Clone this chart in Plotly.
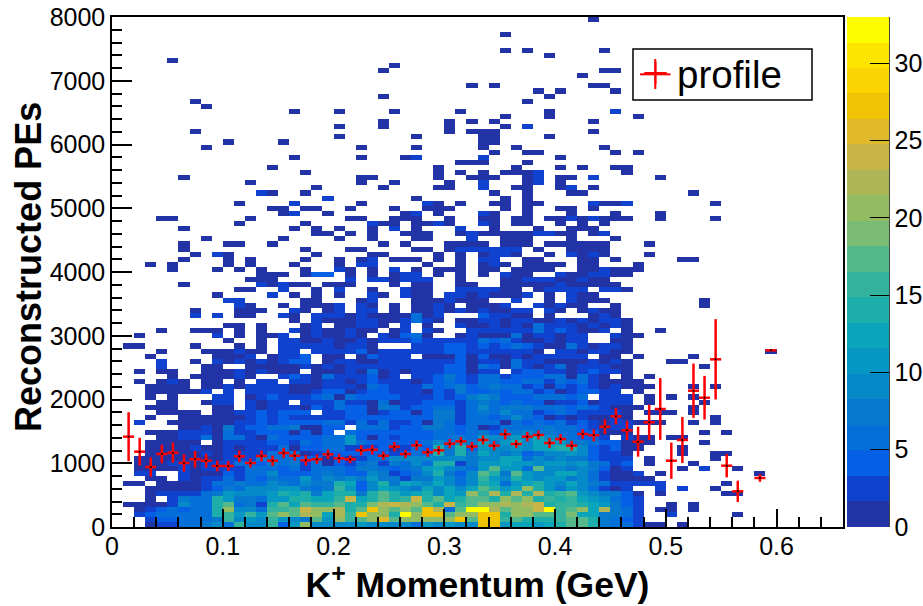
import plotly.graph_objects as go

# Counts per bin, one row per 80 PE bin, bottom row first.
# Each row holds up to four groups: columns 0-15, 16-32, 33-48, 49+ (0.01 GeV bins).
# "." is an empty bin, digits and letters are base-36 counts.
count_rows = [
"...13355795f99f4 al9999b99995a9b99 rraccacehhe75531 1.1",
"...3445557g9a9ga 97ialfhlpillllkri ssfheeefhhe7543.",
"..3455555egagahk hmkcmfrlkexksshll ssekkhhfjcc7753. .3.....1",
"..1345455ek995gg hollmehrlilhrm5ix xnhkkoxfhlcn753. 11.1",
".11113955eh573eh chffheejmomlieofi kkmlmoeffeca743. .1.1",
"...1.3755ea775aa eeccfoceiefoehceh helhkefefca9543.",
"...1333357a999ae ce7cee7eieace9cal gmememefha97741. 1.....11",
"...111113475999a a757fa49ca98c9c9c heaclea7a95313.. 3.3..1",
".11.111135575597 5987ec49e7ca9c959 ec5acea9c9753322 3.....1",
"...11.3133535475 5a59797a77387a959 fa9ea9aa79531111",
"..33..3111435594 4458544973459e749 he7ha99cc953112. 1........1",
"..11113133335554 535554775457ac975 aiaa5h99797413.. ..1.3..1",
"..11133133355475 7351435737595ee37 aacaa9aa9a7534.1 ...1",
"..11111111333755 54414135599999997 99cc5979784333.1 .....1",
"...1111131333355 5134444443455e7e7 c9794599a94221.. ..1..11",
"...1111311313335 1445533341354e7e4 a99a9ccee942411. ..1",
"...11111.1333344 35455a54444459797 c8ae9cca77544111 ....1",
"....113351553154 44455a41434445575 a99a9c975442.311 .11",
"...1113331533444 1414.544444445545 74779875544111.. ....1.1",
"......1131734455 81144.55534487545 13555575543132..",
"..3..11111133434 44455353533417535 5515454534313311 1..1.1",
"...1..1111113434 33333444444447735 54595413131131.. .....1",
"....1111.1133434 44.33441344147735 75955345433331.1 11.1",
"...111...11.3133 31435441753445535 957785554543111. ...1",
"....11..133.3133 .3335331513344435 75454413341333.1 ....1",
"...1.1...33.1343 33451544443334348 9744455545.233.1 .1.1",
"...111113.3.3333 11344134433314374 4545534134433.1.",
"...1111.11313333 11133315433354574 5755341434313111 ...1.1",
"..1.131.11.1.33. 33133134333134543 554455354531111.",
".....1.111131..3 4315333413.334743 553444551531.1.1",
"..1.11..11131311 1.111315131333441 33.34433134331..",
"....3...11..1111 13131333333333441 54153135133311.. ....1",
"....3..1.3131313 44.13311333333341 33153311113131.. .11",
"...1.....1113.13 34.11.14333.11141 4113133333.11.1. ...1",
"....1...111311.3 3.333341333333443 333331.3313311.. ..........1",
".11....1...1.1.3 33331331...333443 43454311531331..",
"..........1..1.3 31131131333433333 5453113133..11..",
"..1......3.1.113 .131131.31451..13 1115133133..311.",
"....1..111.1.1.. 31311311.13.31..3 333335343113.1.. 1",
"..........11.1.. .13.11331.3.1..31 13131533313131..",
"................ 1.311133113531.11 33133113131331..",
".......3.3.11..3 1.333131111513... 43311.1...131...",
".......1...111.. 31.13.33.1.113131 31133.31.1311...",
"...........31..1 .1113.31.1.1131.1 113..31311..1... ....1",
"..........33.... .11...13...111311 1..3..1.3111.... ....1",
".........1....3. 1.1.1..31.311.331 31113.1.311.....",
"...........11..3 ..1.3..1..311..33 3311.13333.221..",
"......1......313 11.111...1.11..11 ..11111311111...",
"............111. .....3.331333..1. ..1133311311....",
".............111 .144.1.1.133.1.1. 1.311..3113311..",
".....1...1.1.1.. .1..31.1.3.1.111. 11.1111..113111.",
"...1.1....1.1... 1...1.33....1..1. 131.1111.11...1.",
"......1...1.1... .1..1.13.111.1.1. 33..11...11.1... ..11",
".......1.31..... ..1....11....1.1. 1331..1.3131...1",
"......1......... .1...11....11.133 3333.1..1111....",
"......1...11..1. ........1.1...111 1.111.111111...1",
"........1......1 ....1..1...11...3 ..111...1...1...",
"................ ..11.1.1..111..13 111113311.13....",
"......1......... 1.1.1..1.3.1...3. .1...1..111.....",
"...........1.... .1.....311.1131.. 31.11..1.1.1....",
"....11......1... .....11..111..1.. 11.11.11313111.. 1....1",
"...............1 3..1......13.1... 31..1...1...1... 1",
"..............11 .11..1...1..111.. ..1.1..11.1.....",
"...........1.... 3.....1.....31.1. .11.11....3113.. .....1",
"................ ...3.......1..... ..1.1...........",
".............31. .1............... .1..1...11...... ...1",
"................ ..1.....1....11.. 3..11..13.1.....",
"............1... ......1..1....1.. 3...13.1........",
"......1......... ......11.....1..1 11..13.11.3..... 1",
"................ .1...........1.1. 1.1113.......1..",
"..............1. .............1... ...1...1.1..11..",
"................ ...............11 1...1...........",
"................ 1.....1...13..... 3......1........",
"................ ................. .1..11......1.1.",
"........1....... ......1....1..... 1..1.......1....",
"..........1....1 ................. 11..............",
"................ ....1......1..... 11....1.........",
".......1........ ..............1.1 11........1.....",
"................ ....1...1.....1.. ..1.3...........",
"................ ........1.....1.1 .1........1.....",
"................ ................. ..1...1.......1.",
"................ 1...1....1.....1. ......1.....3...",
"........1.......",
".......1........ ................. ....1...........",
"................ ........1........ ......1.........",
"................ ................. .....1.1....1...",
"................ ................1 .1........11....",
"................",
"................ ................. .........1......",
"................ ........1........ ...........11...",
"................ .........1.......",
".....1..........",
"................ ................. ......1.........",
"................ ................. ..1.1......1....",
"................",
"................",
"................ ................. ..1.............",
"................",
"................",
"................ ................. ..........1.....",
]
group_widths = [16, 17, 16, 17]

profile_x = [0.015,0.025,0.035,0.045,0.055,0.065,0.075,0.085,0.095,0.105,0.115,0.125,0.135,0.145,0.155,
             0.165,0.175,0.185,0.195,0.205,0.215,0.225,0.235,0.245,0.255,0.265,0.275,0.285,0.295,0.305,
             0.315,0.325,0.335,0.345,0.355,0.365,0.375,0.385,0.395,0.405,0.415,0.425,0.435,0.445,0.455,
             0.465,0.475,0.485,0.495,0.505,0.515,0.525,0.535,0.545,0.555,0.565,0.585,0.595]
profile_y = [1417,1182,941,1145,1166,1004,1062,1040,957,957,1109,1004,1114,1040,1161,
             1118,1046,1062,1140,1077,1062,1203,1213,1118,1260,1145,1281,1171,1203,1307,
             1344,1263,1365,1276,1454,1302,1417,1443,1318,1380,1276,1459,1438,1573,1736,
             1517,1338,1642,1851,1040,1365,2138,2028,2630,962,560,769,2771]
profile_err = [384,217,152,144,160,136,131,110,84,78,91,70,86,81,81,
               78,84,76,76,70,60,81,76,65,73,65,78,70,68,73,
               68,70,70,73,81,65,76,70,78,76,76,76,94,115,128,
               152,235,277,484,285,361,426,342,630,183,167,60,15]
bin_half_width = [0.005] * len(profile_x)

x_ticks = [0, 0.1, 0.2, 0.3, 0.4, 0.5, 0.6]
x_tick_labels = ["0", "0.1", "0.2", "0.3", "0.4", "0.5", "0.6"]
y_ticks = [0, 1000, 2000, 3000, 4000, 5000, 6000, 7000, 8000]
color_ticks = [0, 5, 10, 15, 20, 25, 30]
palette = ["#2233a5","#0f42cf","#0560e6","#046ed9","#0679cf","#0689c8","#0698c3","#0ba5bb","#1eaeaa","#33b29d",
           "#55b88a","#7bbc74","#93bc62","#aeb758","#c8b548","#dfb92a","#f0c405","#fbd503","#fce600","#fdfd00"]


def parse_row(text):
    groups = text.split()
    cells = ""
    for i, width in enumerate(group_widths):
        part = groups[i] if i < len(groups) else ""
        cells += part[:width].ljust(width, ".")
    return [None if ch == "." else int(ch, 36) for ch in cells]


z = [parse_row(r) for r in count_rows]
assert len(z) == 100, len(z)

steps = []
for i, c in enumerate(palette):
    steps += [[i / 20, c], [(i + 1) / 20, c]]

FONT = "Liberation Sans"
fig = go.Figure()
fig.add_trace(go.Heatmap(
    z=z, x0=0.005, dx=0.01, y0=40, dy=80, zmin=0, zmax=33, colorscale=steps,
    hoverongaps=False, showlegend=False,
    colorbar=dict(
        x=1.0055, xanchor="left", y=0, yanchor="bottom", len=1, lenmode="fraction",
        thickness=42, thicknessmode="pixels", xpad=0, ypad=0, outlinewidth=0,
        tickvals=color_ticks, ticks="inside", ticklen=19, tickcolor="black", tickwidth=1,
        tickfont=dict(family=FONT, size=25, color="black"),
    ),
))
fig.add_trace(go.Scatter(
    x=profile_x, y=profile_y, mode="markers", showlegend=False,
    marker=dict(size=2, color="black"),
    error_y=dict(type="data", array=profile_err, color="#ff0000", thickness=2.5, width=0),
    error_x=dict(type="data", array=bin_half_width, color="#ff0000", thickness=2.5, width=0),
))
fig.add_trace(go.Scatter(
    x=[None], y=[None], mode="markers", name="profile",
    marker=dict(symbol="cross-thin", size=42, color="#ff0000", line=dict(color="#ff0000", width=2)),
))
fig.update_layout(
    width=923, height=606, autosize=False,
    margin=dict(l=112, r=80, t=17, b=79, autoexpand=False),
    paper_bgcolor="white", plot_bgcolor="white",
    font=dict(family=FONT, color="black"),
    legend=dict(x=0.7141, y=0.952, xanchor="left", yanchor="top", bgcolor="rgba(0,0,0,0)",
                borderwidth=0, itemwidth=33,
                font=dict(family=FONT, size=38.5)),
    xaxis=dict(
        range=[0, 0.66], tickvals=x_ticks, ticktext=x_tick_labels, ticks="inside", ticklen=18,
        tickcolor="black", tickwidth=1.5, showgrid=False, zeroline=False,
        showline=True, linecolor="black", linewidth=1.5, mirror=True, ticklabelstandoff=-4,
        minor=dict(dtick=0.02, tick0=0, ticks="inside", ticklen=10, tickcolor="black", tickwidth=1.5, showgrid=False),
        tickfont=dict(family=FONT, size=25, color="black"),
        title=dict(text="<b>K<sup>+</sup> Momentum (GeV)</b>", font=dict(family=FONT, size=35.5), standoff=6),
    ),
    yaxis=dict(
        range=[0, 8000], tickvals=y_ticks, ticks="inside", ticklen=20,
        tickcolor="black", tickwidth=1.5, showgrid=False, zeroline=False,
        showline=True, linecolor="black", linewidth=1.5, mirror=True,
        minor=dict(dtick=200, tick0=0, ticks="inside", ticklen=10, tickcolor="black", tickwidth=1.5, showgrid=False),
        tickfont=dict(family=FONT, size=25, color="black"),
    ),
    annotations=[dict(text="<b>Reconstructed PEs</b>", xref="paper", yref="paper", x=-0.1135, y=0.51,
                      xanchor="center", yanchor="middle", textangle=-90, showarrow=False,
                      font=dict(family=FONT, size=36, color="black"))],
    shapes=[
        dict(type="line", xref="paper", yref="paper", x0=1.0629, x1=1.0629, y0=0, y1=1,
             line=dict(color="black", width=1.5)),
        dict(type="rect", xref="paper", yref="paper", x0=0.7127, x1=0.9576, y0=0.8373, y1=0.9373,
             line=dict(color="black", width=1.5), fillcolor="white"),
        dict(type="line", xref="paper", yref="paper", x0=0.7223, x1=0.764, y0=0.8876, y1=0.8876,
             line=dict(color="#ff0000", width=2)),
        dict(type="line", xref="paper", yref="paper", x0=0.7432, x1=0.7432, y0=0.8588, y1=0.9176,
             line=dict(color="#ff0000", width=2)),
    ],
)
fig.write_html("out.html", post_script="document.body.style.margin='0';",
               config={"displayModeBar": False})
